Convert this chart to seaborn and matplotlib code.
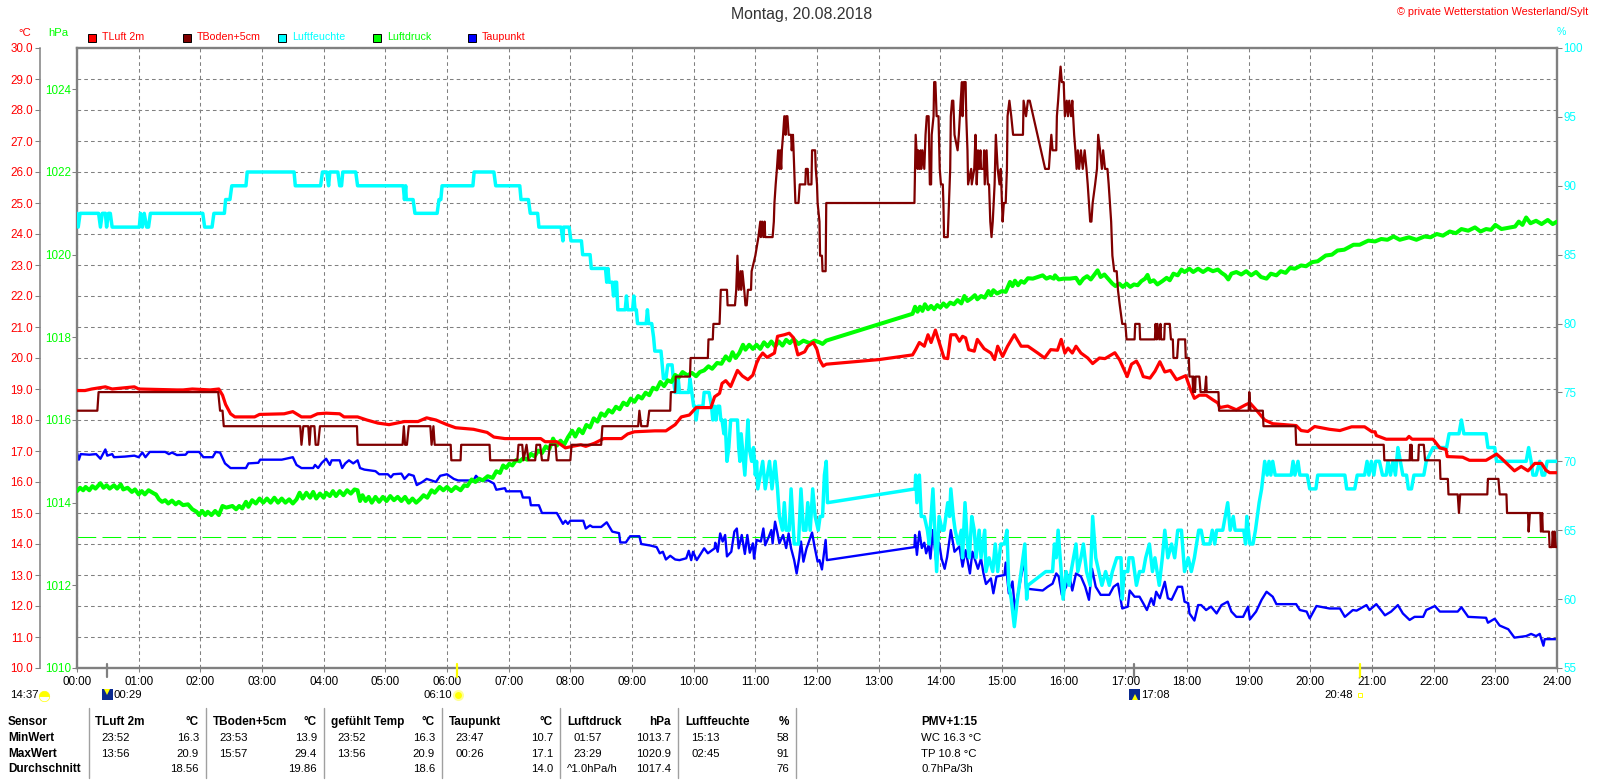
#!/usr/bin/env python3
# coding=utf-8

# Tagesgrafik der Wetterstation Westerland/Sylt, 20.08.2018

from matplotlib import pyplot as plt
from matplotlib.lines import Line2D
from matplotlib.patches import Rectangle
import seaborn as sns

W, H = 1600, 780

RED = "#ff0000"
DARK = "#800000"
CYAN = "#00ffff"
GREEN = "#00ff00"
BLUE = "#0000ff"
GREY = "#808080"

hour_labels = [f"{h:02d}:00" for h in range(25)]
temp_ticks = [10 + i for i in range(21)]
press_ticks = [1010, 1012, 1014, 1016, 1018, 1020, 1022, 1024]
hum_ticks = [55, 60, 65, 70, 75, 80, 85, 90, 95, 100]

# all curves: (hour, value)

# TLuft 2m
luft = [(0, 18.95), (.13, 18.95), (.24, 19.0), (.46, 19.07), (.57, 19.0), (.93, 19.07), (1.0, 19.0), (1.62, 18.97),
        (1.72, 18.97), (1.87, 19.0), (2.16, 18.97), (2.3, 19.0), (2.36, 18.8), (2.41, 18.5), (2.49, 18.2), (2.56, 18.1),
        (2.88, 18.1), (2.96, 18.18), (3.36, 18.2), (3.5, 18.27), (3.64, 18.1), (3.79, 18.1), (3.9, 18.2), (4.04, 18.22),
        (4.26, 18.2), (4.33, 18.1), (4.55, 18.1), (4.7, 18.0), (4.88, 17.9), (5.06, 17.85), (5.31, 17.95), (5.38, 17.95),
        (5.53, 17.95), (5.67, 18.07), (5.82, 18.0), (6.0, 17.85), (6.14, 17.75), (6.43, 17.7), (6.65, 17.6), (6.76, 17.45),
        (6.94, 17.4), (7.52, 17.4), (7.59, 17.3), (7.78, 17.3), (7.92, 17.1), (8.03, 17.15), (8.17, 17.2), (8.25, 17.15),
        (8.39, 17.25), (8.54, 17.4), (8.83, 17.4), (8.93, 17.55), (9.04, 17.62), (9.37, 17.65), (9.55, 17.65), (9.7, 17.85),
        (9.8, 18.1), (9.93, 18.16), (10.04, 18.4), (10.28, 18.4), (10.34, 18.75), (10.42, 18.86), (10.46, 19.18),
        (10.52, 19.27), (10.6, 19.08), (10.71, 19.6), (10.79, 19.42), (10.88, 19.3), (10.96, 19.45), (11.02, 19.83),
        (11.06, 20.0), (11.12, 20.16), (11.19, 20.02), (11.31, 20.16), (11.36, 20.7), (11.47, 20.75), (11.55, 20.8),
        (11.62, 20.65), (11.69, 20.1), (11.8, 20.2), (11.85, 20.38), (11.94, 20.5), (12.0, 20.27), (12.04, 19.95),
        (12.1, 19.74), (12.15, 19.8), (13.01, 19.95), (13.55, 20.1), (13.6, 20.27), (13.66, 20.5), (13.74, 20.38),
        (13.8, 20.75), (13.85, 20.5), (13.92, 20.9), (14.0, 20.38), (14.06, 20.0), (14.12, 19.98), (14.17, 20.75),
        (14.25, 20.75), (14.31, 20.54), (14.36, 20.7), (14.41, 20.65), (14.46, 20.27), (14.55, 20.22), (14.6, 20.6),
        (14.71, 20.3), (14.82, 20.16), (14.88, 19.95), (14.93, 20.38), (15.01, 20.05), (15.09, 20.38), (15.2, 20.75),
        (15.31, 20.38), (15.42, 20.38), (15.58, 20.16), (15.69, 20.0), (15.79, 20.27), (15.9, 20.25), (15.96, 20.6),
        (16.02, 20.16), (16.07, 20.32), (16.14, 20.16), (16.2, 20.38), (16.28, 20.16), (16.39, 20.0), (16.47, 19.82),
        (16.58, 20.0), (16.67, 19.98), (16.83, 20.17), (16.91, 19.93), (17.03, 19.4), (17.1, 19.8), (17.18, 19.9),
        (17.23, 19.72), (17.29, 19.4), (17.4, 19.35), (17.48, 19.57), (17.56, 19.88), (17.64, 19.55), (17.73, 19.6),
        (17.83, 19.3), (17.98, 19.43), (18.05, 19.02), (18.12, 18.7), (18.2, 18.8), (18.31, 18.8), (18.42, 18.65),
        (18.5, 18.55), (18.53, 18.4), (18.66, 18.45), (18.8, 18.33), (18.96, 18.5), (19.02, 18.55), (19.12, 18.33),
        (19.26, 18.0), (19.39, 17.88), (19.77, 17.82), (19.85, 17.66), (19.96, 17.63), (20.07, 17.79), (20.31, 17.7),
        (20.48, 17.66), (20.67, 17.78), (20.88, 17.78), (21.0, 17.62), (21.05, 17.62), (21.07, 17.5), (21.23, 17.38),
        (21.56, 17.38), (21.6, 17.47), (21.65, 17.38), (21.99, 17.38), (22.1, 17.1), (22.2, 17.05), (22.22, 16.82),
        (22.47, 16.8), (22.58, 16.7), (22.85, 16.7), (23.02, 16.9), (23.1, 16.76), (23.31, 16.36), (23.42, 16.5),
        (23.53, 16.36), (23.64, 16.6), (23.75, 16.6), (23.82, 16.38), (23.88, 16.3), (24, 16.3)]

# TBoden+5cm
boden = [(0, 18.3), (.33, 18.3), (.35, 18.9), (2.29, 18.9), (2.32, 18.3), (2.36, 18.3), (2.38, 17.8), (3.62, 17.8),
         (3.64, 17.2), (3.67, 17.8), (3.75, 17.8), (3.77, 17.2), (3.79, 17.8), (3.85, 17.8), (3.87, 17.2), (3.91, 17.2),
         (3.94, 17.8), (4.54, 17.8), (4.55, 17.2), (5.28, 17.2), (5.30, 17.8), (5.32, 17.2), (5.35, 17.2), (5.38, 17.8),
         (5.73, 17.8), (5.75, 17.2), (5.78, 17.8), (5.80, 17.2), (6.06, 17.2), (6.07, 16.7), (6.22, 16.7), (6.23, 17.2),
         (6.69, 17.2), (6.70, 16.7), (7.14, 16.7), (7.16, 17.2), (7.22, 17.2), (7.24, 16.7), (7.29, 17.2), (7.32, 16.7),
         (7.43, 16.7), (7.45, 17.2), (7.51, 17.2), (7.54, 16.7), (7.64, 16.7), (7.67, 17.2), (7.76, 17.2), (7.78, 16.7),
         (8.0, 16.7), (8.02, 17.2), (8.5, 17.2), (8.52, 17.8), (9.10, 17.8), (9.12, 18.3), (9.15, 17.8), (9.25, 17.8),
         (9.28, 18.3), (9.62, 18.3), (9.63, 18.9), (9.70, 18.9), (9.71, 19.4), (9.94, 19.4), (9.95, 20.0), (10.23, 20.0),
         (10.24, 20.6), (10.31, 20.6), (10.32, 21.1), (10.42, 21.1), (10.43, 21.7), (10.44, 22.2), (10.54, 22.2),
         (10.55, 21.7), (10.67, 21.7), (10.69, 22.2), (10.70, 22.8), (10.71, 23.3), (10.73, 22.2), (10.76, 22.8),
         (10.77, 22.2), (10.79, 22.8), (10.82, 22.2), (10.84, 21.7), (10.86, 21.7), (10.88, 22.2), (10.93, 22.2),
         (10.94, 22.8), (11.0, 23.3), (11.05, 23.9), (11.08, 24.4), (11.09, 23.9), (11.11, 24.4), (11.13, 23.9),
         (11.15, 24.4), (11.16, 23.9), (11.28, 23.9), (11.3, 24.4), (11.31, 25.0), (11.33, 25.6), (11.35, 26.1),
         (11.37, 26.7), (11.39, 26.1), (11.4, 26.7), (11.42, 26.1), (11.43, 26.7), (11.45, 27.2), (11.47, 27.8),
         (11.49, 27.2), (11.5, 27.8), (11.52, 27.8), (11.54, 27.2), (11.58, 27.2), (11.59, 26.7), (11.61, 27.2),
         (11.62, 26.7), (11.64, 25.6), (11.65, 25.0), (11.7, 25.0), (11.72, 25.6), (11.81, 25.6), (11.82, 26.1),
         (11.85, 26.1), (11.86, 25.6), (11.91, 25.6), (11.92, 26.7), (11.97, 26.7), (11.98, 26.1), (12.0, 25.6),
         (12.01, 25.0), (12.04, 24.4), (12.05, 23.3), (12.08, 23.3), (12.09, 22.8), (12.14, 22.8), (12.15, 25.0),
         (13.58, 25.0), (13.59, 26.1), (13.6, 27.2), (13.63, 26.1), (13.64, 26.7), (13.66, 26.1), (13.68, 26.7),
         (13.69, 26.1), (13.71, 26.7), (13.74, 26.1), (13.76, 27.2), (13.78, 27.8), (13.81, 27.8), (13.82, 26.7),
         (13.83, 25.6), (13.85, 25.6), (13.86, 27.2), (13.89, 27.8), (13.9, 28.9), (13.92, 28.9), (13.94, 27.8),
         (13.97, 27.8), (13.99, 26.1), (14.01, 25.6), (14.04, 25.6), (14.05, 25.0), (14.06, 23.9), (14.12, 23.9),
         (14.14, 25.0), (14.16, 26.1), (14.17, 27.8), (14.19, 28.3), (14.21, 28.3), (14.23, 27.2), (14.28, 26.7),
         (14.3, 27.2), (14.33, 28.3), (14.35, 28.9), (14.36, 27.8), (14.38, 28.9), (14.41, 28.9), (14.42, 27.8),
         (14.44, 26.7), (14.45, 25.6), (14.5, 26.1), (14.51, 25.6), (14.55, 26.1), (14.57, 27.2), (14.59, 25.6),
         (14.61, 26.7), (14.63, 26.1), (14.65, 26.7), (14.66, 26.1), (14.7, 26.1), (14.71, 26.7), (14.72, 25.6),
         (14.75, 26.7), (14.77, 25.6), (14.79, 25.6), (14.81, 24.4), (14.83, 23.9), (14.85, 24.4), (14.88, 25.6),
         (14.9, 27.2), (14.93, 26.1), (14.96, 25.6), (14.98, 26.1), (15.0, 25.0), (15.01, 24.4), (15.03, 25.0),
         (15.06, 25.0), (15.08, 26.1), (15.09, 27.8), (15.12, 28.3), (15.15, 27.8), (15.18, 27.2), (15.34, 27.2),
         (15.35, 28.3), (15.39, 27.8), (15.42, 28.3), (15.45, 28.3), (15.7, 26.1), (15.76, 26.1), (15.78, 26.7),
         (15.8, 27.2), (15.82, 26.7), (15.88, 26.7), (15.89, 27.8), (15.91, 28.3), (15.93, 28.9), (15.95, 29.4),
         (15.97, 28.9), (16.0, 28.9), (16.02, 27.8), (16.05, 28.3), (16.07, 27.8), (16.09, 28.3), (16.12, 27.8),
         (16.14, 28.3), (16.17, 27.2), (16.19, 26.7), (16.21, 26.1), (16.23, 26.7), (16.25, 26.1), (16.28, 26.7),
         (16.31, 26.1), (16.34, 26.7), (16.37, 26.1), (16.39, 25.6), (16.43, 24.4), (16.45, 24.4), (16.47, 25.0),
         (16.51, 25.6), (16.54, 26.1), (16.56, 27.2), (16.59, 26.7), (16.62, 26.1), (16.64, 26.7), (16.67, 26.1),
         (16.71, 26.1), (16.73, 25.6), (16.75, 25.0), (16.77, 24.4), (16.79, 23.3), (16.82, 22.8), (16.86, 22.8),
         (16.88, 22.2), (16.91, 21.7), (16.95, 21.1), (17.0, 21.1), (17.02, 20.6), (17.15, 20.6), (17.16, 21.1),
         (17.23, 21.1), (17.24, 20.6), (17.48, 20.6), (17.49, 21.1), (17.51, 20.6), (17.52, 21.1), (17.55, 20.6),
         (17.57, 21.1), (17.58, 20.6), (17.63, 20.6), (17.64, 21.1), (17.72, 21.1), (17.74, 20.6), (17.77, 20.6),
         (17.78, 20.0), (17.84, 20.0), (17.86, 20.6), (17.97, 20.6), (17.98, 20.0), (18.03, 20.0), (18.04, 19.4),
         (18.09, 19.4), (18.1, 18.9), (18.11, 19.4), (18.13, 18.9), (18.14, 19.4), (18.2, 19.4), (18.22, 18.9),
         (18.29, 18.9), (18.31, 19.4), (18.32, 18.9), (18.51, 18.9), (18.52, 18.3), (19.0, 18.3), (19.01, 18.9),
         (19.03, 18.3), (19.23, 18.3), (19.24, 17.8), (19.76, 17.8), (19.77, 17.2), (21.19, 17.2), (21.2, 16.7),
         (21.61, 16.7), (21.62, 17.2), (21.63, 16.7), (21.64, 17.2), (21.65, 16.7), (21.75, 16.7), (21.76, 17.2),
         (21.84, 17.2), (21.86, 16.7), (22.1, 16.7), (22.11, 16.1), (22.23, 16.1), (22.24, 15.6), (22.39, 15.6),
         (22.41, 15.0), (22.43, 15.6), (22.87, 15.6), (22.88, 16.1), (23.05, 16.1), (23.07, 15.6), (23.18, 15.6),
         (23.19, 15.0), (23.53, 15.0), (23.54, 14.4), (23.56, 15.0), (23.73, 15.0), (23.74, 14.4), (23.76, 15.0),
         (23.77, 14.4), (23.87, 14.4), (23.88, 13.9), (23.92, 13.9), (23.93, 14.4), (23.95, 13.9), (23.96, 14.4),
         (23.98, 13.9), (24, 13.9)]

# Luftfeuchte
feuchte = [(0, 88), (.02, 87), (.05, 88), (.35, 88), (.38, 87), (.41, 88), (.46, 88), (.48, 87), (.51, 88), (.54, 88),
           (.57, 87), (1.01, 87), (1.03, 88), (1.06, 87), (1.09, 88), (1.13, 87), (1.16, 87), (1.19, 88), (2.04, 88),
           (2.07, 87), (2.19, 87), (2.22, 88), (2.39, 88), (2.41, 89), (2.48, 89), (2.51, 90), (2.74, 90), (2.76, 91),
           (3.52, 91), (3.54, 90), (3.95, 90), (3.98, 91), (4.05, 91), (4.08, 90), (4.10, 91), (4.23, 91), (4.26, 90),
           (4.29, 90), (4.31, 91), (4.52, 91), (4.55, 90), (5.29, 90), (5.31, 89), (5.33, 90), (5.34, 89), (5.45, 89),
           (5.48, 88), (5.84, 88), (5.87, 89), (5.90, 89), (5.92, 90), (6.42, 90), (6.44, 91), (6.76, 91), (6.79, 90),
           (7.18, 90), (7.2, 89), (7.32, 89), (7.35, 88), (7.47, 88), (7.49, 87), (7.85, 87), (7.88, 86), (7.89, 87),
           (7.98, 87), (8.01, 86), (8.18, 86), (8.2, 85), (8.32, 85), (8.34, 84), (8.57, 84), (8.59, 83), (8.61, 84),
           (8.63, 83), (8.68, 83), (8.7, 82), (8.72, 83), (8.75, 83), (8.77, 81), (8.89, 81), (8.91, 82), (8.93, 81),
           (9.01, 81), (9.03, 82), (9.05, 81), (9.07, 81), (9.09, 80), (9.23, 80), (9.25, 81), (9.27, 80), (9.32, 80),
           (9.35, 79), (9.37, 78), (9.47, 78), (9.49, 77), (9.51, 76), (9.55, 76), (9.58, 77), (9.65, 77), (9.67, 76),
           (9.7, 75), (9.73, 75), (9.75, 76), (9.77, 75), (9.92, 75), (9.94, 76), (9.97, 75), (10.0, 74), (10.02, 74),
           (10.04, 73), (10.07, 74), (10.15, 74), (10.17, 75), (10.25, 75), (10.29, 74), (10.31, 73), (10.34, 74),
           (10.36, 73), (10.39, 74), (10.42, 74), (10.44, 73), (10.46, 73), (10.49, 72), (10.51, 73), (10.54, 70),
           (10.57, 71), (10.6, 73), (10.71, 73), (10.73, 71), (10.75, 70), (10.77, 72), (10.79, 71), (10.83, 69),
           (10.88, 73), (10.9, 71), (10.94, 70), (10.97, 71), (11.0, 69), (11.02, 70), (11.04, 68), (11.12, 70),
           (11.16, 68), (11.23, 70), (11.27, 68), (11.32, 70), (11.36, 68), (11.39, 66), (11.44, 65), (11.47, 67),
           (11.5, 65), (11.55, 65), (11.58, 68), (11.63, 64), (11.7, 64), (11.74, 68), (11.78, 65), (11.82, 65),
           (11.85, 67), (11.89, 65), (11.93, 68), (11.97, 66), (12.02, 65), (12.05, 66), (12.09, 66), (12.12, 69),
           (12.15, 70), (12.17, 67), (13.59, 68), (13.6, 69), (13.62, 67), (13.66, 69), (13.69, 66), (13.74, 66),
           (13.79, 65), (13.82, 64), (13.88, 68), (13.92, 64), (13.94, 62), (13.98, 66), (14.03, 65), (14.06, 65),
           (14.12, 67), (14.15, 66), (14.17, 68), (14.21, 66), (14.24, 65), (14.29, 64), (14.34, 65), (14.36, 63),
           (14.4, 67), (14.44, 64), (14.47, 63), (14.51, 66), (14.55, 65), (14.58, 63), (14.63, 65), (14.66, 63),
           (14.72, 65), (14.74, 62), (14.79, 63), (14.85, 62), (14.89, 64), (14.93, 62), (14.98, 64), (15.04, 64),
           (15.08, 65), (15.11, 61), (15.15, 60), (15.2, 58), (15.25, 60), (15.31, 62), (15.37, 64), (15.4, 60),
           (15.42, 61), (15.71, 62), (15.82, 62), (15.85, 64), (15.88, 63), (15.91, 65), (15.96, 62), (15.99, 60),
           (16.04, 62), (16.09, 61), (16.12, 62), (16.2, 64), (16.23, 62), (16.28, 63), (16.32, 64), (16.37, 62),
           (16.43, 61), (16.47, 66), (16.52, 63), (16.57, 62), (16.62, 61), (16.68, 62), (16.74, 61), (16.79, 62),
           (16.86, 63), (16.93, 63), (16.95, 60), (16.98, 62), (17.04, 62), (17.06, 63), (17.12, 63), (17.18, 61),
           (17.23, 62), (17.29, 62), (17.33, 63), (17.39, 64), (17.44, 62), (17.48, 63), (17.55, 61), (17.6, 63),
           (17.64, 65), (17.69, 63), (17.75, 64), (17.8, 63), (17.85, 65), (17.91, 65), (17.96, 62), (18.02, 63),
           (18.07, 62), (18.12, 63), (18.19, 65), (18.23, 65), (18.27, 64), (18.37, 64), (18.41, 65), (18.45, 64),
           (18.48, 65), (18.58, 65), (18.62, 66), (18.66, 67), (18.7, 65), (18.75, 66), (18.78, 65), (18.92, 65),
           (18.95, 64), (18.97, 66), (19.02, 64), (19.07, 64), (19.11, 65), (19.17, 67), (19.21, 68), (19.26, 70),
           (19.3, 69), (19.33, 70), (19.36, 69), (19.39, 70), (19.43, 69), (19.69, 69), (19.72, 70), (19.75, 69),
           (19.8, 70), (19.83, 69), (19.95, 69), (19.99, 68), (20.09, 68), (20.12, 69), (20.56, 69), (20.59, 68),
           (20.72, 68), (20.76, 69), (20.88, 69), (20.92, 70), (20.95, 69), (20.99, 70), (21.03, 69), (21.06, 70),
           (21.12, 70), (21.17, 69), (21.23, 69), (21.26, 70), (21.3, 69), (21.34, 70), (21.38, 69), (21.42, 71),
           (21.46, 70), (21.5, 69), (21.56, 69), (21.59, 68), (21.64, 68), (21.68, 69), (21.84, 69), (21.88, 70),
           (21.99, 71), (22.21, 71), (22.25, 72), (22.41, 72), (22.45, 73), (22.49, 72), (22.85, 72), (22.88, 71),
           (22.99, 71), (23.02, 70), (23.5, 70), (23.54, 71), (23.58, 70), (23.61, 69), (23.66, 69), (23.72, 70),
           (23.76, 69), (23.8, 69), (23.84, 70), (24, 70)]

# Luftdruck, hPa above 1000
druck = [(0, 14.28), (.05, 14.36), (.1, 14.3), (.14, 14.38), (.2, 14.3), (.25, 14.4), (.3, 14.34), (.38, 14.47), (.43, 14.36),
         (.48, 14.42), (.53, 14.34), (.6, 14.42), (.65, 14.34), (.71, 14.44), (.75, 14.32), (.82, 14.36), (.89, 14.26),
         (.94, 14.32), (1.0, 14.2), (1.05, 14.28), (1.1, 14.2), (1.16, 14.3), (1.25, 14.22), (1.28, 14.2), (1.33, 14.08),
         (1.38, 14.02), (1.43, 14.06), (1.48, 13.98), (1.54, 14.05), (1.6, 13.96), (1.65, 14.02), (1.72, 13.94), (1.8, 13.96),
         (1.87, 13.84), (1.94, 13.78), (1.98, 13.7), (2.03, 13.8), (2.08, 13.7), (2.12, 13.78), (2.18, 13.7), (2.24, 13.8),
         (2.3, 13.7), (2.36, 13.92), (2.42, 13.88), (2.52, 13.92), (2.58, 13.84), (2.63, 13.92), (2.68, 13.86), (2.74, 14.02),
         (2.78, 13.9), (2.84, 14.06), (2.9, 13.98), (2.96, 14.1), (3.02, 14.0), (3.08, 14.1), (3.14, 14.0), (3.2, 14.12),
         (3.26, 14.0), (3.32, 14.1), (3.38, 14.0), (3.44, 14.08), (3.5, 13.98), (3.56, 14.08), (3.61, 14.24), (3.66, 14.1),
         (3.72, 14.24), (3.78, 14.12), (3.83, 14.26), (3.88, 14.1), (3.94, 14.22), (4.0, 14.12), (4.04, 14.24), (4.1, 14.16),
         (4.15, 14.28), (4.2, 14.16), (4.26, 14.28), (4.32, 14.18), (4.38, 14.3), (4.44, 14.22), (4.5, 14.32), (4.55, 14.3),
         (4.59, 14.04), (4.63, 14.18), (4.68, 14.04), (4.73, 14.14), (4.78, 14.0), (4.84, 14.14), (4.9, 14.02), (4.96, 14.14),
         (5.02, 14.04), (5.08, 14.16), (5.14, 14.06), (5.2, 14.14), (5.26, 14.04), (5.32, 14.14), (5.38, 14.0), (5.44, 14.1),
         (5.5, 14.0), (5.56, 14.08), (5.62, 14.18), (5.68, 14.12), (5.75, 14.3), (5.8, 14.24), (5.88, 14.38), (5.94, 14.3),
         (6.0, 14.38), (6.07, 14.28), (6.14, 14.38), (6.22, 14.3), (6.28, 14.42), (6.33, 14.4), (6.4, 14.56), (6.46, 14.5),
         (6.52, 14.58), (6.58, 14.54), (6.66, 14.64), (6.74, 14.6), (6.8, 14.76), (6.86, 14.72), (6.91, 14.9), (6.96, 14.84),
         (7.01, 14.94), (7.06, 14.9), (7.12, 15.03), (7.18, 15.0), (7.24, 15.08), (7.3, 15.04), (7.36, 15.18), (7.42, 15.12),
         (7.48, 15.26), (7.54, 15.2), (7.6, 15.36), (7.66, 15.3), (7.72, 15.55), (7.78, 15.38), (7.84, 15.5), (7.9, 15.4),
         (7.96, 15.58), (8.03, 15.74), (8.08, 15.6), (8.14, 15.78), (8.2, 15.68), (8.26, 15.88), (8.32, 15.82), (8.38, 16.04),
         (8.44, 15.96), (8.5, 16.16), (8.56, 16.1), (8.62, 16.24), (8.68, 16.18), (8.74, 16.32), (8.8, 16.26), (8.86, 16.42),
         (8.92, 16.36), (8.98, 16.52), (9.04, 16.44), (9.1, 16.58), (9.16, 16.52), (9.22, 16.66), (9.28, 16.6), (9.34, 16.78),
         (9.4, 16.74), (9.46, 16.92), (9.52, 16.82), (9.58, 16.96), (9.64, 16.92), (9.7, 17.09), (9.76, 17.03), (9.82, 17.16),
         (9.9, 17.08), (9.97, 17.14), (10.04, 17.06), (10.1, 17.16), (10.17, 17.2), (10.24, 17.3), (10.3, 17.24), (10.38, 17.38),
         (10.45, 17.36), (10.52, 17.54), (10.58, 17.44), (10.63, 17.64), (10.68, 17.5), (10.74, 17.62), (10.8, 17.82),
         (10.84, 17.7), (10.9, 17.82), (10.96, 17.72), (11.02, 17.82), (11.08, 17.72), (11.14, 17.88), (11.2, 17.78),
         (11.26, 17.9), (11.32, 17.78), (11.38, 17.9), (11.44, 17.8), (11.5, 17.94), (11.56, 17.86), (11.62, 17.96), (11.7, 17.84),
         (11.78, 17.92), (11.88, 17.86), (11.96, 17.92), (12.04, 17.88), (12.09, 17.84), (12.15, 17.92), (13.55, 18.57),
         (13.59, 18.74), (13.63, 18.62), (13.67, 18.74), (13.71, 18.64), (13.75, 18.8), (13.8, 18.68), (13.85, 18.76), (13.9, 18.68),
         (13.95, 18.78), (14.0, 18.72), (14.05, 18.82), (14.1, 18.74), (14.16, 18.84), (14.22, 18.8), (14.28, 18.9), (14.34, 18.82),
         (14.39, 19.0), (14.44, 18.88), (14.5, 18.94), (14.56, 19.02), (14.6, 18.92), (14.66, 19.0), (14.72, 18.96), (14.78, 19.12),
         (14.82, 19.02), (14.86, 19.14), (14.92, 19.06), (15.0, 19.12), (15.06, 19.1), (15.13, 19.34), (15.17, 19.24), (15.21, 19.37),
         (15.26, 19.26), (15.31, 19.36), (15.36, 19.32), (15.42, 19.43), (15.5, 19.42), (15.6, 19.47), (15.66, 19.5), (15.72, 19.42),
         (15.78, 19.46), (15.84, 19.42), (15.86, 19.5), (15.92, 19.4), (16.0, 19.42), (16.1, 19.42), (16.2, 19.44), (16.26, 19.3),
         (16.32, 19.42), (16.38, 19.48), (16.44, 19.4), (16.5, 19.52), (16.55, 19.62), (16.6, 19.46), (16.66, 19.52), (16.72, 19.42),
         (16.79, 19.3), (16.84, 19.24), (16.9, 19.3), (16.96, 19.22), (17.02, 19.3), (17.08, 19.22), (17.14, 19.28), (17.2, 19.26),
         (17.26, 19.36), (17.32, 19.42), (17.36, 19.51), (17.4, 19.34), (17.46, 19.38), (17.52, 19.28), (17.6, 19.36), (17.67, 19.44),
         (17.72, 19.38), (17.78, 19.54), (17.85, 19.5), (17.91, 19.64), (17.96, 19.58), (18.04, 19.66), (18.1, 19.58), (18.18, 19.66),
         (18.26, 19.58), (18.34, 19.66), (18.42, 19.6), (18.5, 19.64), (18.56, 19.56), (18.62, 19.5), (18.67, 19.4), (18.72, 19.54),
         (18.8, 19.58), (18.88, 19.52), (18.96, 19.6), (19.04, 19.5), (19.12, 19.58), (19.2, 19.46), (19.29, 19.42), (19.36, 19.54),
         (19.45, 19.5), (19.52, 19.6), (19.6, 19.56), (19.67, 19.68), (19.75, 19.66), (19.85, 19.74), (19.93, 19.72), (20.03, 19.82),
         (20.12, 19.84), (20.25, 19.98), (20.35, 20.0), (20.44, 20.1), (20.55, 20.12), (20.7, 20.24), (20.8, 20.24), (20.94, 20.34),
         (21.05, 20.32), (21.15, 20.38), (21.25, 20.36), (21.35, 20.44), (21.45, 20.36), (21.6, 20.42), (21.72, 20.36), (21.85, 20.44),
         (21.95, 20.42), (22.05, 20.5), (22.15, 20.46), (22.26, 20.56), (22.36, 20.52), (22.45, 20.62), (22.56, 20.58), (22.67, 20.66),
         (22.76, 20.56), (22.85, 20.62), (22.93, 20.6), (23.0, 20.72), (23.1, 20.62), (23.25, 20.66), (23.32, 20.68), (23.38, 20.8),
         (23.44, 20.72), (23.5, 20.9), (23.57, 20.76), (23.66, 20.82), (23.75, 20.74), (23.85, 20.84), (23.93, 20.74), (24, 20.8)]

# Taupunkt
tau = [(0, 16.95), (.03, 16.72), (.06, 16.9), (.2, 16.88), (.31, 16.9), (.38, 16.75), (.46, 17.05), (.49, 16.85), (.57, 16.9),
       (.6, 16.8), (.78, 16.82), (.93, 16.85), (1.0, 16.8), (1.06, 16.95), (1.11, 16.8), (1.18, 16.97), (1.43, 16.97),
       (1.49, 16.9), (1.54, 16.95), (1.62, 16.87), (1.76, 16.88), (1.8, 16.97), (1.98, 16.97), (2.05, 16.8), (2.2, 16.8),
       (2.25, 16.97), (2.32, 16.95), (2.4, 16.6), (2.49, 16.45), (2.74, 16.45), (2.78, 16.6), (2.94, 16.62), (2.97, 16.72),
       (3.32, 16.72), (3.5, 16.8), (3.56, 16.55), (3.64, 16.45), (3.83, 16.45), (3.86, 16.55), (3.91, 16.45), (3.97, 16.62),
       (4.04, 16.75), (4.1, 16.55), (4.13, 16.7), (4.26, 16.7), (4.3, 16.45), (4.35, 16.6), (4.41, 16.7), (4.48, 16.6),
       (4.55, 16.7), (4.59, 16.45), (4.66, 16.4), (4.84, 16.35), (4.9, 16.25), (5.04, 16.25), (5.09, 16.15), (5.13, 16.25),
       (5.26, 16.27), (5.31, 16.1), (5.38, 16.25), (5.46, 16.2), (5.51, 15.9), (5.6, 16.0), (5.67, 16.1), (5.75, 16.05),
       (5.82, 16.0), (5.89, 16.2), (6.0, 16.25), (6.11, 16.1), (6.18, 16.05), (6.43, 16.05), (6.47, 16.2), (6.54, 16.05),
       (6.67, 16.05), (6.76, 15.95), (6.8, 15.75), (6.94, 15.8), (6.96, 15.7), (7.2, 15.7), (7.23, 15.5), (7.34, 15.5),
       (7.36, 15.25), (7.49, 15.25), (7.54, 15.0), (7.78, 15.0), (7.81, 14.9), (7.88, 14.65), (7.92, 14.75), (7.96, 14.65),
       (8.0, 14.75), (8.21, 14.75), (8.25, 14.5), (8.32, 14.6), (8.36, 14.55), (8.5, 14.55), (8.59, 14.7), (8.68, 14.4),
       (8.79, 14.35), (8.81, 14.05), (8.9, 14.05), (8.97, 14.25), (9.12, 14.25), (9.15, 14.0), (9.3, 13.95), (9.4, 13.9),
       (9.45, 13.7), (9.5, 13.75), (9.55, 13.5), (9.62, 13.62), (9.7, 13.5), (9.77, 13.48), (9.88, 13.54), (9.92, 13.78),
       (9.96, 13.48), (9.99, 13.75), (10.05, 13.48), (10.17, 13.86), (10.23, 13.7), (10.34, 13.86), (10.35, 14.04),
       (10.39, 13.75), (10.43, 14.34), (10.47, 14.08), (10.51, 14.29), (10.54, 13.6), (10.61, 13.75), (10.66, 14.4),
       (10.7, 14.5), (10.73, 13.86), (10.78, 14.29), (10.83, 13.68), (10.87, 14.29), (10.91, 13.72), (10.96, 14.02),
       (10.98, 13.53), (11.02, 14.13), (11.09, 14.08), (11.13, 14.5), (11.16, 13.96), (11.22, 14.24), (11.26, 14.45),
       (11.28, 14.02), (11.32, 14.72), (11.36, 14.34), (11.39, 14.02), (11.45, 14.29), (11.5, 13.87), (11.54, 14.34),
       (11.58, 13.86), (11.63, 13.48), (11.67, 13.05), (11.71, 13.54), (11.74, 14.08), (11.78, 13.43), (11.83, 13.86),
       (11.87, 14.08), (11.92, 14.37), (11.96, 13.92), (12.01, 13.43), (12.04, 13.48), (12.08, 13.18), (12.14, 14.13),
       (12.16, 13.48), (13.58, 13.9), (13.59, 14.29), (13.62, 13.65), (13.66, 14.4), (13.7, 13.87), (13.74, 14.04),
       (13.77, 13.7), (13.81, 13.96), (13.84, 13.53), (13.88, 14.45), (13.93, 13.48), (13.98, 14.04), (14.02, 13.53),
       (14.07, 13.2), (14.11, 13.58), (14.17, 14.45), (14.23, 13.75), (14.31, 13.92), (14.36, 13.27), (14.41, 13.8),
       (14.48, 13.05), (14.52, 13.75), (14.61, 13.2), (14.66, 13.53), (14.7, 13.05), (14.74, 12.71), (14.82, 12.89),
       (14.86, 12.41), (14.91, 12.95), (15.04, 13.0), (15.06, 13.4), (15.11, 12.41), (15.17, 12.79), (15.21, 11.87),
       (15.28, 12.62), (15.36, 13.5), (15.39, 12.56), (15.66, 12.5), (15.74, 12.62), (15.82, 12.72), (15.88, 13.05),
       (15.92, 12.95), (15.97, 12.36), (16.04, 12.62), (16.09, 13.0), (16.14, 12.5), (16.2, 13.05), (16.28, 12.95),
       (16.35, 12.62), (16.41, 12.2), (16.46, 13.2), (16.52, 12.62), (16.6, 12.36), (16.74, 12.36), (16.81, 12.62),
       (16.88, 12.72), (16.95, 11.92), (17.04, 11.98), (17.07, 12.5), (17.15, 12.3), (17.23, 12.3), (17.29, 12.09),
       (17.35, 11.87), (17.42, 12.25), (17.46, 12.03), (17.5, 12.46), (17.56, 12.25), (17.64, 12.78), (17.69, 12.25),
       (17.75, 12.2), (17.85, 12.62), (17.92, 12.62), (17.96, 12.14), (18.02, 12.09), (18.04, 11.76), (18.12, 11.53),
       (18.18, 12.03), (18.23, 12.03), (18.31, 11.87), (18.39, 11.98), (18.48, 11.76), (18.56, 12.03), (18.66, 12.14),
       (18.72, 11.82), (18.8, 11.65), (18.91, 11.65), (18.99, 11.98), (19.02, 11.57), (19.12, 11.82), (19.21, 12.2),
       (19.29, 12.46), (19.39, 12.3), (19.45, 12.06), (19.77, 12.06), (19.83, 11.87), (19.94, 11.82), (19.99, 11.6),
       (20.1, 12.0), (20.31, 11.92), (20.48, 11.92), (20.56, 11.65), (20.69, 11.87), (20.75, 11.85), (20.91, 12.03),
       (20.96, 11.87), (21.07, 12.06), (21.21, 11.7), (21.31, 11.82), (21.42, 12.03), (21.5, 11.76), (21.61, 11.55),
       (21.69, 11.65), (21.83, 11.65), (21.88, 11.87), (22.02, 12.0), (22.1, 11.82), (22.39, 11.82), (22.45, 11.96),
       (22.56, 11.65), (22.85, 11.62), (22.88, 11.46), (22.99, 11.59), (23.07, 11.37), (23.21, 11.25), (23.31, 10.98),
       (23.5, 11.03), (23.58, 11.1), (23.66, 11.03), (23.72, 11.1), (23.78, 10.72), (23.8, 10.93), (24, 10.93)]

# Tabelle unter dem Diagramm
row_labels = ["Sensor", "MinWert", "MaxWert", "Durchschnitt"]
col_titles = ["TLuft 2m", "TBoden+5cm", "gefühlt Temp", "Taupunkt", "Luftdruck", "Luftfeuchte"]
col_units = ["°C", "°C", "°C", "°C", "hPa", "%"]
min_times = ["23:52", "23:53", "23:52", "23:47", "01:57", "15:13"]
min_values = ["16.3", "13.9", "16.3", "10.7", "1013.7", "58"]
max_times = ["13:56", "15:57", "13:56", "00:26", "23:29", "02:45"]
max_values = ["20.9", "29.4", "20.9", "17.1", "1020.9", "91"]
avg_values = ["18.56", "19.86", "18.6", "14.0", "1017.4", "76"]
pmv_lines = ["PMV+1:15", "WC 16.3 °C", "TP 10.8 °C", "0.7hPa/3h"]

sns.set_theme(style="white")
plt.rcParams["font.family"] = ["Liberation Sans", "DejaVu Sans"]
plt.rcParams["font.size"] = 8.2

fig = plt.figure(figsize=(W / 100, H / 100), dpi=100, facecolor="white")
ax = fig.add_axes([77 / W, 1 - 668 / H, 1480 / W, 620 / H])
ax_hum = ax.twinx()
ax_press = ax.twinx()
ax_temp = ax.twinx()


def put(x, y, s, **kw):
    """Text at picture pixel position."""
    kw.setdefault("va", "center")
    kw.setdefault("fontsize", 8.2)
    kw.setdefault("color", "black")
    fig.text(x / W, 1 - y / H, s, **kw)


def mark(x, y, **kw):
    """Small marker at picture pixel position."""
    fig.add_artist(Line2D([x / W], [1 - y / H], transform=fig.transFigure, linestyle="none", **kw))


def curve(points, axis, color, width):
    hours, values = zip(*points)
    sns.lineplot(x=list(hours), y=list(values), ax=axis, color=color, linewidth=width, estimator=None, sort=False,
                 errorbar=None)


# curves
ax.axhline(14.24, color=GREEN, linewidth=.75, dashes=(18, 6))
curve(tau, ax, BLUE, 1.7)
curve(feuchte, ax_hum, CYAN, 2.5)
curve([(h, 1000 + p) for h, p in druck], ax_press, GREEN, 2.9)
curve(luft, ax_temp, RED, 2.3)
curve(boden, ax_temp, DARK, 1.6)

ax.set_xlim(0, 24)
ax.set_ylim(10, 30)
ax_temp.set_ylim(10, 30)
ax_hum.set_ylim(55, 100)
ax_press.set_ylim(1010, 1025)

ax.set_xticks(range(25))
ax.set_xticklabels(hour_labels)
ax.set_yticks(temp_ticks)
ax.set_yticklabels([])
ax.grid(True, color=GREY, linewidth=.75, linestyle=(0, (3.5, 3)))
ax.set_axisbelow(True)
ax.tick_params(axis="x", length=3, width=.75, color=GREY, pad=2.6, labelsize=8.4, labelcolor="black", bottom=True)
ax.tick_params(axis="y", left=False, right=False)
for name in ["top", "left", "right", "bottom"]:
    ax.spines[name].set_color(GREY)
    ax.spines[name].set_linewidth(1.7)

for other in [ax_hum, ax_press, ax_temp]:
    other.set_xlabel("")
    other.set_ylabel("")
    other.grid(False)
    for spine in other.spines.values():
        spine.set_visible(False)
ax.set_xlabel("")
ax.set_ylabel("")

ax_temp.yaxis.tick_left()
ax_temp.set_yticks(temp_ticks)
ax_temp.set_yticklabels([f"{t:.1f}" for t in temp_ticks])
ax_temp.spines["left"].set_visible(True)
ax_temp.spines["left"].set_position(("outward", 26.6))
ax_temp.spines["left"].set_color(GREY)
ax_temp.spines["left"].set_linewidth(1.1)
ax_temp.tick_params(axis="y", length=3.5, width=.75, color=GREY, labelcolor=RED, labelsize=8.4, pad=1.5, left=True,
                    right=False)

ax_press.yaxis.tick_left()
ax_press.set_yticks(press_ticks)
ax_press.set_yticklabels([str(p) for p in press_ticks])
ax_press.tick_params(axis="y", length=3.5, width=.75, color=GREY, labelcolor=GREEN, labelsize=8.4, pad=1, left=True,
                     right=False)

ax_hum.yaxis.tick_right()
ax_hum.set_yticks(hum_ticks)
ax_hum.set_yticklabels([str(p) for p in hum_ticks])
ax_hum.tick_params(axis="y", length=3.5, width=.75, color=GREY, labelcolor=CYAN, labelsize=8.4, pad=1, right=True,
                   left=False)

# events below the axis: moonrise, sunrise, moonset, sunset
event_hours = [29 / 60, 6 + 10 / 60, 17 + 8 / 60, 20 + 48 / 60]
event_colors = [GREY, "#ffff00", GREY, "#ffff00"]
for hour, color in zip(event_hours, event_colors):
    ax.plot([hour, hour], [.0065, -.0145], color=color, linewidth=1.6, transform=ax.get_xaxis_transform(),
            clip_on=False, zorder=5)

put(10, 695, "14:37")
mark(44, 696, marker="o", fillstyle="top", markersize=7.5, markerfacecolor="#ffff00", markerfacecoloralt="none",
     markeredgecolor="#ffff00", markeredgewidth=.5)
put(114, 695, "00:29")
put(1141, 695, "17:08")
for left in [102, 1129]:
    fig.add_artist(Rectangle((left / W, 1 - 700 / H), 11 / W, 11 / H, transform=fig.transFigure, color="#0a2a90",
                             linewidth=0))
mark(107, 692, marker="v", markersize=4.5, color="#ffff00", markeredgewidth=0)
mark(1135, 697, marker="^", markersize=4.5, color="#ffff00", markeredgewidth=0)
put(452, 695, "06:10", ha="right")
mark(458, 695, marker="o", markersize=8, color="#ffff99", markeredgewidth=0)
mark(458, 695, marker="o", markersize=5, color="#ffff00", markeredgewidth=0)
put(1353, 695, "20:48", ha="right")
mark(1360, 695, marker="s", markersize=3.5, markerfacecolor="none", markeredgecolor="#ffff00", markeredgewidth=.7)

# head line
put(802, 15, "Montag, 20.08.2018", fontsize=11.4, ha="center", color="#333333")
put(1588, 12, "© private Wetterstation Westerland/Sylt", fontsize=7.8, ha="right", color=RED)
put(25, 33, "°C", color=RED, ha="center")
put(58, 33, "hPa", color=GREEN, ha="center")
put(1561, 32, "%", color=CYAN, ha="center", fontsize=7.6)

# legend row, evenly spaced as in the original
legend_names = ["TLuft 2m", "TBoden+5cm", "Luftfeuchte", "Luftdruck", "Taupunkt"]
legend_fill = [RED, DARK, CYAN, GREEN, BLUE]
legend_text = [RED, RED, CYAN, GREEN, RED]
for i, (name, fill, tcol) in enumerate(zip(legend_names, legend_fill, legend_text)):
    mark(92 + i * 95, 37.5, marker="s", markersize=6.3, markerfacecolor=fill, markeredgecolor="black",
         markeredgewidth=.7)
    put(102 + i * 95, 37.5, name, color=tcol, fontsize=7.7)

# table
row_y = [722, 737.7, 754, 769]
for y, label in zip(row_y, row_labels):
    put(8, y, label, fontweight="bold", fontsize=8.5)
for x in [88.6, 206, 324, 442, 560, 678, 795.5]:
    fig.add_artist(Line2D([x / W, x / W], [1 - 708 / H, 1 - 778 / H], transform=fig.transFigure, color="#a0a0a0",
                          linewidth=1))
for i in range(6):
    title_x = 95 + 118 * i
    unit_x = 199 + 118 * i
    put(title_x, row_y[0], col_titles[i], fontweight="bold", fontsize=8.5)
    put(unit_x, row_y[0], col_units[i], fontweight="bold", fontsize=8.5, ha="right")
    put(title_x + 6, row_y[1], min_times[i])
    put(unit_x, row_y[1], min_values[i], ha="right")
    put(title_x + 6, row_y[2], max_times[i])
    put(unit_x, row_y[2], max_values[i], ha="right")
    put(unit_x, row_y[3], avg_values[i], ha="right")
put(567, row_y[3], "^1.0hPa/h")
for y, line, weight in zip(row_y, pmv_lines, ["bold", "normal", "normal", "normal"]):
    put(921, y, line, fontweight=weight, fontsize=8.5 if weight == "bold" else 8.2)

fig.savefig("out.png", dpi=100, facecolor="white")
